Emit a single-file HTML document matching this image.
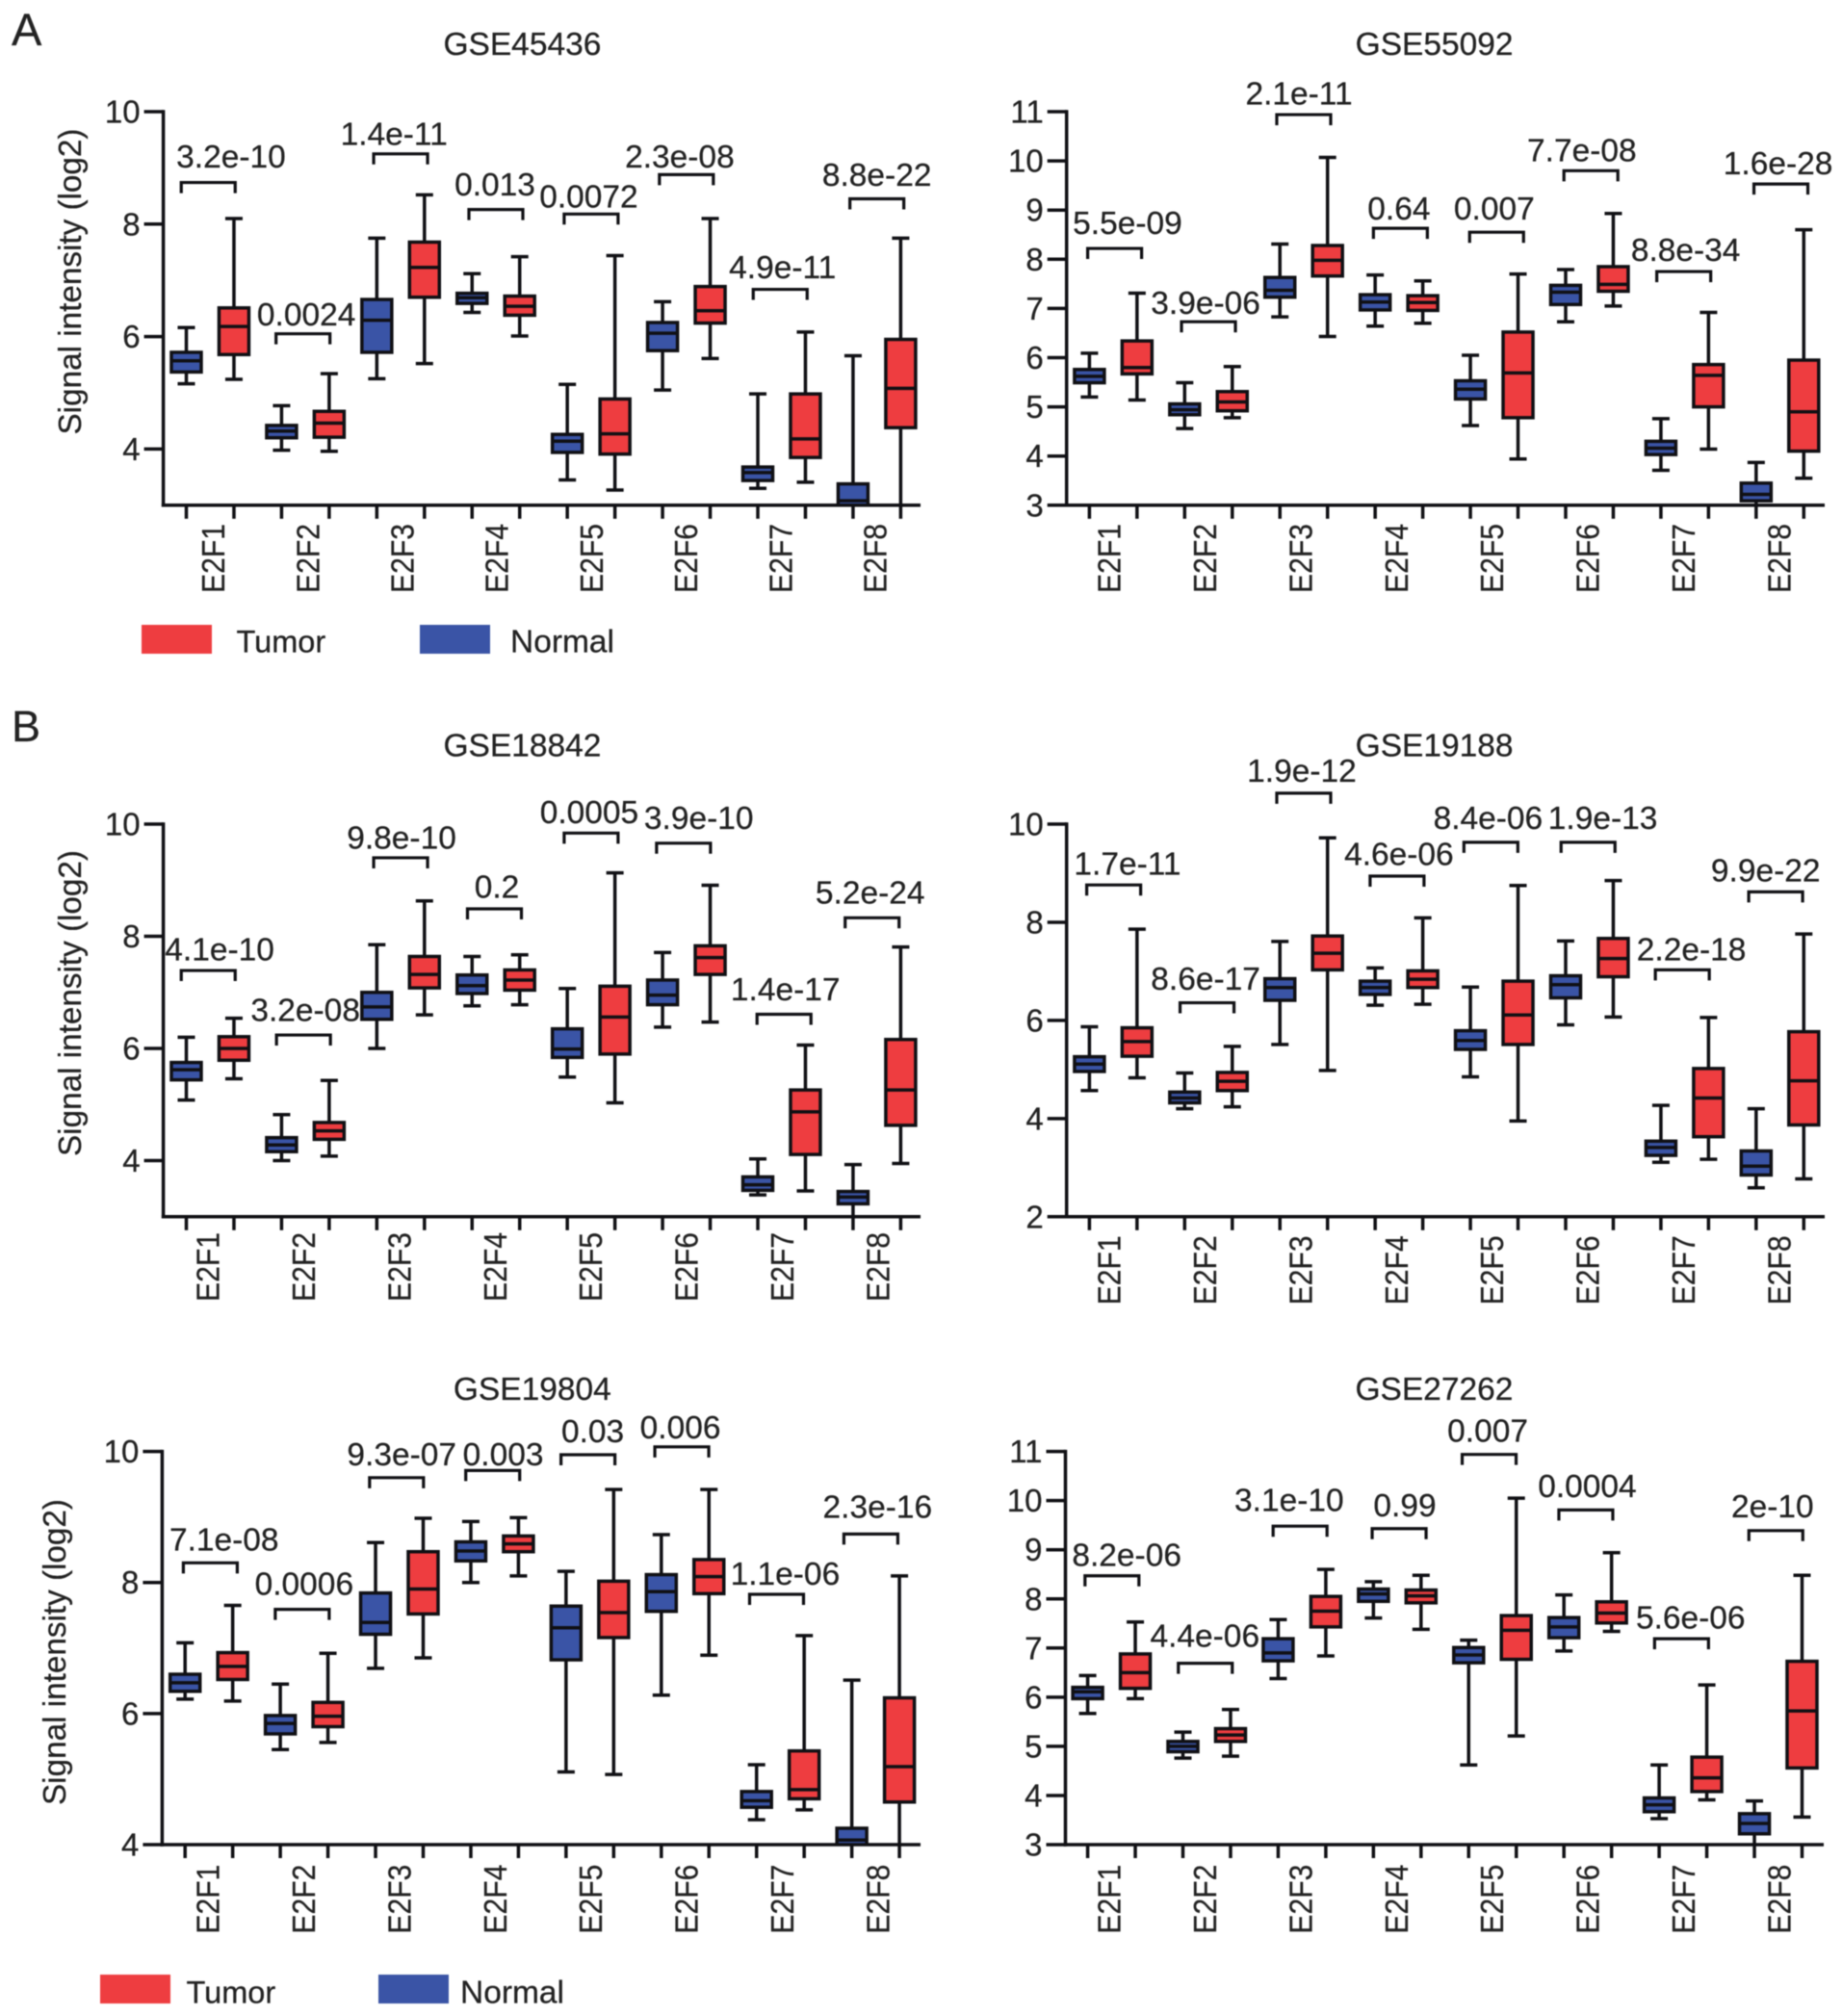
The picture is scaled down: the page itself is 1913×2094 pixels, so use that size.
<!DOCTYPE html>
<html lang="en">
<head>
<meta charset="utf-8">
<title>E2F expression in tumor and normal tissue</title>
<style>
html,body{margin:0;padding:0;background:#fff;}
svg{display:block;filter:blur(0.55px);}
text{font-family:"Liberation Sans",Arial,sans-serif;fill:#222;stroke:#222;stroke-width:0.25px;}
</style>
</head>
<body>
<svg id="figure" xmlns="http://www.w3.org/2000/svg" width="1913" height="2094" viewBox="0 0 1913 2094">
  <rect x="0" y="0" width="1913" height="2094" fill="#ffffff"/>
  <text x="12" y="47" font-size="47">A</text>
  <text x="12" y="770" font-size="45">B</text>

  <g>
    <rect x="147" y="649" width="73" height="30" fill="#ee3d40"/>
    <text x="245.5" y="677.5" font-size="32.5">Tumor</text>
    <rect x="436" y="649" width="73" height="30" fill="#3a54a6"/>
    <text x="530" y="677.5" font-size="33.5">Normal</text>
  </g>
  <g>
    <rect x="104" y="2051" width="73" height="30" fill="#ee3d40"/>
    <text x="193.5" y="2080.5" font-size="32.5">Tumor</text>
    <rect x="393" y="2051" width="73" height="30" fill="#3a54a6"/>
    <text x="478" y="2080.5" font-size="33.5">Normal</text>
  </g>
</svg>

<script>
// Shared categories
const categories = ['E2F1','E2F2','E2F3','E2F4','E2F5','E2F6','E2F7','E2F8'];

// Every box reads [lower whisker, Q1, median, Q3, upper whisker] in log2 signal
const gse45436Normal = [[5.16,5.37,5.57,5.72,6.16],[3.98,4.20,4.32,4.42,4.77],[5.25,5.72,6.29,6.66,7.75],[6.43,6.59,6.69,6.77,7.12],[3.45,3.94,4.14,4.26,5.15],[5.05,5.75,6.06,6.25,6.62],[3.30,3.44,3.58,3.68,4.98],[2.5,2.75,3.08,3.38,5.66]];
const gse45436Tumor = [[5.24,5.68,6.18,6.51,8.10],[3.96,4.21,4.46,4.67,5.34],[5.52,6.70,7.23,7.68,8.52],[6.01,6.38,6.54,6.72,7.42],[3.27,3.91,4.27,4.89,7.44],[5.61,6.24,6.46,6.89,8.10],[3.41,3.85,4.18,4.98,6.08],[2.9,4.38,5.08,5.95,7.75]];
const gse45436Pvalues = ['3.2e-10','0.0024','1.4e-11','0.013','0.0072','2.3e-08','4.9e-11','8.8e-22'];
const gse45436BracketLevel = [8.74,6.05,9.25,8.26,8.18,8.88,6.84,8.45];
const gse45436BracketCategory = [-0.02,0.975,2.0,3.0,4.0,5.0,5.985,7.0];
const gse45436LabelLevel = [9.01,6.20,9.41,8.51,8.30,9.01,7.04,8.68];
const gse45436LabelCategory = [0.22,1.01,1.93,2.99,3.975,4.93,6.01,7.0];
const gse45436Ticks = [4,6,8,10];

const gse55092Normal = [[5.20,5.49,5.62,5.76,6.09],[4.56,4.84,4.94,5.06,5.49],[6.83,7.23,7.37,7.63,8.31],[6.64,6.97,7.13,7.28,7.68],[4.62,5.16,5.36,5.53,6.05],[6.73,7.08,7.33,7.47,7.79],[3.71,4.03,4.16,4.30,4.76],[2.9,3.09,3.22,3.45,3.87]];
const gse55092Tumor = [[5.14,5.67,5.80,6.34,7.31],[4.78,4.92,5.10,5.31,5.82],[6.43,7.66,7.98,8.28,10.07],[6.70,6.96,7.12,7.26,7.56],[3.94,4.78,5.69,6.52,7.70],[7.05,7.35,7.49,7.85,8.93],[4.14,5.00,5.64,5.86,6.92],[3.55,4.10,4.90,5.95,8.60]];
const gse55092Pvalues = ['5.5e-09','3.9e-06','2.1e-11','0.64','0.007','7.7e-08','8.8e-34','1.6e-28'];
const gse55092BracketLevel = [8.22,6.73,10.94,8.63,8.55,9.80,7.75,9.53];
const gse55092BracketCategory = [0.015,1.0,2.0,3.015,4.025,5.015,5.99,7.01];
const gse55092LabelLevel = [8.51,6.89,11.15,8.81,8.81,9.99,7.97,9.73];
const gse55092LabelCategory = [0.15,0.97,1.95,3.0,4.0,4.92,6.01,6.98];
const gse55092Ticks = [3,4,5,6,7,8,9,10,11];

const gse18842Normal = [[5.08,5.44,5.62,5.75,6.20],[4.00,4.16,4.28,4.41,4.82],[6.00,6.52,6.74,7.00,7.85],[6.76,6.98,7.12,7.31,7.64],[5.49,5.84,5.99,6.35,7.07],[6.38,6.78,6.95,7.22,7.71],[3.39,3.47,3.57,3.71,4.03],[2.9,3.23,3.35,3.45,3.93]];
const gse18842Tumor = [[5.46,5.79,6.00,6.21,6.54],[4.08,4.38,4.53,4.68,5.43],[6.60,7.08,7.32,7.64,8.63],[6.78,7.04,7.22,7.40,7.67],[5.03,5.90,6.56,7.11,9.13],[6.47,7.32,7.62,7.83,8.91],[3.46,4.11,4.87,5.26,6.06],[3.95,4.63,5.26,6.16,7.81]];
const gse18842Pvalues = ['4.1e-10','3.2e-08','9.8e-10','0.2','0.0005','3.9e-10','1.4e-17','5.2e-24'];
const gse18842BracketLevel = [7.39,6.24,9.40,8.49,9.84,9.66,6.61,8.33];
const gse18842BracketCategory = [-0.02,0.98,2.0,2.985,4.0,4.97,6.025,6.95];
const gse18842LabelLevel = [7.57,6.49,9.56,8.69,10.02,9.91,6.86,8.58];
const gse18842LabelCategory = [0.1,1.0,2.01,3.01,3.98,5.13,6.04,6.93];
const gse18842Ticks = [4,6,8,10];

const gse19188Normal = [[4.57,4.96,5.11,5.26,5.87],[4.20,4.32,4.42,4.54,4.93],[5.51,6.41,6.67,6.85,7.61],[6.31,6.53,6.67,6.80,7.07],[4.85,5.41,5.59,5.79,6.68],[5.91,6.46,6.73,6.91,7.62],[3.11,3.25,3.41,3.54,4.27],[2.59,2.85,3.03,3.34,4.20]];
const gse19188Tumor = [[4.83,5.27,5.57,5.85,7.86],[4.24,4.57,4.76,4.94,5.47],[4.98,7.03,7.37,7.72,9.72],[6.33,6.67,6.84,7.01,8.09],[3.95,5.51,6.11,6.80,8.75],[6.07,6.89,7.26,7.67,8.85],[3.17,3.63,4.42,5.02,6.06],[2.77,3.87,4.77,5.77,7.76]];
const gse19188Pvalues = ['1.7e-11','8.6e-17','1.9e-12','4.6e-06','8.4e-06','1.9e-13','2.2e-18','9.9e-22'];
const gse19188BracketLevel = [8.76,6.36,10.63,8.94,9.63,9.63,7.03,8.62];
const gse19188BracketCategory = [0.005,0.985,2.0,2.98,3.965,4.985,5.975,6.955];
const gse19188LabelLevel = [8.97,6.63,10.86,9.17,9.90,9.90,7.22,8.83];
const gse19188LabelCategory = [0.15,0.97,1.98,3.0,3.935,5.14,6.07,6.85];
const gse19188Ticks = [2,4,6,8,10];

const gse19804Normal = [[6.22,6.34,6.47,6.60,7.08],[5.45,5.69,5.85,5.97,6.45],[6.69,7.21,7.39,7.84,8.61],[8.00,8.33,8.48,8.62,8.93],[5.11,6.82,7.31,7.64,8.17],[6.28,7.56,7.86,8.12,8.73],[4.38,4.57,4.67,4.81,5.22],[3.5,3.85,4.07,4.25,6.51]];
const gse19804Tumor = [[6.19,6.52,6.72,6.93,7.65],[5.56,5.80,5.96,6.17,6.92],[6.85,7.52,7.90,8.47,8.98],[8.10,8.47,8.59,8.71,8.99],[5.07,7.16,7.54,8.02,9.42],[6.89,7.83,8.09,8.35,9.42],[4.53,4.70,4.84,5.43,7.19],[3.9,4.65,5.19,6.24,8.10]];
const gse19804Pvalues = ['7.1e-08','0.0006','9.3e-07','0.003','0.03','0.006','1.1e-06','2.3e-16'];
const gse19804BracketLevel = [8.30,7.59,9.60,9.71,9.95,10.07,7.82,8.74];
const gse19804BracketCategory = [0.015,0.98,1.97,2.98,3.98,4.965,5.96,6.95];
const gse19804LabelLevel = [8.49,7.81,9.79,9.79,10.14,10.2,7.97,8.99];
const gse19804LabelCategory = [0.16,1.0,2.025,3.09,4.03,4.95,6.05,7.02];
const gse19804Ticks = [4,6,8,10];

const gse27262Normal = [[5.67,5.97,6.11,6.20,6.44],[4.76,4.89,5.00,5.10,5.29],[6.38,6.74,6.90,7.19,7.58],[7.61,7.95,8.10,8.20,8.35],[4.62,6.70,6.86,7.01,7.16],[6.94,7.21,7.43,7.62,8.08],[3.53,3.67,3.81,3.95,4.62],[2.95,3.22,3.43,3.63,3.89]];
const gse27262Tumor = [[5.97,6.18,6.50,6.88,7.53],[4.80,5.10,5.23,5.36,5.75],[6.84,7.43,7.75,8.05,8.60],[7.38,7.92,8.06,8.18,8.48],[5.21,6.77,7.36,7.66,10.05],[7.34,7.51,7.71,7.94,8.94],[3.91,4.08,4.36,4.78,6.25],[3.56,4.56,5.72,6.73,8.48]];
const gse27262Pvalues = ['8.2e-06','4.4e-06','3.1e-10','0.99','0.007','0.0004','5.6e-06','2e-10'];
const gse27262BracketLevel = [8.47,6.69,9.48,9.43,10.94,9.81,7.19,9.39];
const gse27262BracketCategory = [0.005,0.985,1.98,3.02,3.965,4.98,5.985,6.975];
const gse27262LabelLevel = [8.67,7.03,9.79,9.68,11.2,10.07,7.40,9.66];
const gse27262LabelCategory = [0.16,0.98,1.865,3.08,3.95,4.995,6.08,6.94];
const gse27262Ticks = [3,4,5,6,7,8,9,10,11];

// Panel frames (layout only)
const panels = [
  {title:'GSE45436',titleX:542.4,titleY:57,axisX:169.6,firstTick:193.5,endX:956,top:116,bottom:524.8,vTop:10,vBottom:3,ticks:gse45436Ticks,normal:gse45436Normal,tumor:gse45436Tumor,p:gse45436Pvalues,bl:gse45436BracketLevel,bc:gse45436BracketCategory,ll:gse45436LabelLevel,lc:gse45436LabelCategory,catX:221.6,catStep:98.2,catY:616,yTitleX:84,yTitleY:292.5},
  {title:'GSE55092',titleX:1489.6,titleY:57,axisX:1107.7,firstTick:1131.4,endX:1895,top:116,bottom:524.8,vTop:11,vBottom:3,ticks:gse55092Ticks,normal:gse55092Normal,tumor:gse55092Tumor,p:gse55092Pvalues,bl:gse55092BracketLevel,bc:gse55092BracketCategory,ll:gse55092LabelLevel,lc:gse55092LabelCategory,catX:1152.1,catStep:99.4,catY:616},
  {title:'GSE18842',titleX:542.4,titleY:785.5,axisX:169.6,firstTick:193.5,endX:956,top:856,bottom:1263.8,vTop:10,vBottom:3,ticks:gse18842Ticks,normal:gse18842Normal,tumor:gse18842Tumor,p:gse18842Pvalues,bl:gse18842BracketLevel,bc:gse18842BracketCategory,ll:gse18842LabelLevel,lc:gse18842LabelCategory,catX:216.1,catStep:99.4,catY:1352,yTitleX:84,yTitleY:1042},
  {title:'GSE19188',titleX:1489.6,titleY:785.5,axisX:1107.7,firstTick:1131.4,endX:1895,top:856,bottom:1263.8,vTop:10,vBottom:2,ticks:gse19188Ticks,normal:gse19188Normal,tumor:gse19188Tumor,p:gse19188Pvalues,bl:gse19188BracketLevel,bc:gse19188BracketCategory,ll:gse19188LabelLevel,lc:gse19188LabelCategory,catX:1152.1,catStep:99.4,catY:1355.4},
  {title:'GSE19804',titleX:552.8,titleY:1454,axisX:168.4,firstTick:192.2,endX:956,top:1507.6,bottom:1916,vTop:10,vBottom:4,ticks:gse19804Ticks,normal:gse19804Normal,tumor:gse19804Tumor,p:gse19804Pvalues,bl:gse19804BracketLevel,bc:gse19804BracketCategory,ll:gse19804LabelLevel,lc:gse19804LabelCategory,catX:216.1,catStep:99.4,catY:2008.6,yTitleX:68,yTitleY:1716},
  {title:'GSE27262',titleX:1489.4,titleY:1454,axisX:1106.5,firstTick:1129.6,endX:1894,top:1507.6,bottom:1916,vTop:11,vBottom:3,ticks:gse27262Ticks,normal:gse27262Normal,tumor:gse27262Tumor,p:gse27262Pvalues,bl:gse27262BracketLevel,bc:gse27262BracketCategory,ll:gse27262LabelLevel,lc:gse27262LabelCategory,catX:1152.1,catStep:99.4,catY:2008.6}
];

const SVG_NS = 'http://www.w3.org/2000/svg';
const figure = document.getElementById('figure');
const INK = '#101014';
const TICK_STEP = 49.46;
const BOX_W = 31;
const CAP_W = 18;
const LINE_W = 3.5;

function make(tag, attrs, parent) {
  const node = document.createElementNS(SVG_NS, tag);
  for (const key in attrs) node.setAttribute(key, attrs[key]);
  parent.appendChild(node);
  return node;
}

function line(parent, x1, y1, x2, y2, width) {
  return make('line', {x1:x1, y1:y1, x2:x2, y2:y2, stroke:INK, 'stroke-width':width}, parent);
}

function drawBox(parent, stats, xc, yScale, fill, name) {
  const g = make('g', {}, parent);
  
  
  const low = yScale(stats[0]), q1 = yScale(stats[1]), med = yScale(stats[2]), q3 = yScale(stats[3]), high = yScale(stats[4]);
  const stem = line(g, xc, high, xc, low, LINE_W);
  
  
  const capHigh = line(g, xc - CAP_W/2, high, xc + CAP_W/2, high, LINE_W);
  
  
  const capLow = line(g, xc - CAP_W/2, low, xc + CAP_W/2, low, LINE_W);
  
  
  const rect = make('rect', {x:xc - BOX_W/2, y:q3, width:BOX_W, height:q1 - q3, fill:fill, stroke:INK, 'stroke-width':LINE_W}, g);
  
  
  const median = line(g, xc - BOX_W/2, med, xc + BOX_W/2, med, LINE_W);
  
  
}

panels.forEach(function (panel, panelIndex) {
  const yScale = function (v) {
    return panel.top + (panel.vTop - v) * (panel.bottom - panel.top) / (panel.vTop - panel.vBottom);
  };
  const tickX = function (i) { return panel.firstTick + TICK_STEP * i; };
  const groupX = function (c) { return panel.firstTick + TICK_STEP * (2 * c + 0.5); };

  const root = make('g', {}, figure);
  
  

  const titleNode = make('text', {x:panel.titleX, y:panel.titleY, 'font-size':33.5, 'text-anchor':'middle'}, root);
  titleNode.textContent = panel.title;
  
  

  const defs = make('defs', {}, root);
  const clip = make('clipPath', {id:'plot-clip-' + panelIndex}, defs);
  make('rect', {x:panel.axisX, y:panel.top - 40, width:panel.endX - panel.axisX, height:panel.bottom - panel.top + 40}, clip);

  const marks = make('g', {'clip-path':'url(#plot-clip-' + panelIndex + ')'}, root);
  
  
  categories.forEach(function (cat, i) {
    drawBox(marks, panel.normal[i], tickX(2 * i), yScale, '#3a54a6', 'box-normal-' + cat.toLowerCase());
    drawBox(marks, panel.tumor[i], tickX(2 * i + 1), yScale, '#ee3d40', 'box-tumor-' + cat.toLowerCase());
  });

  // axes
  const yAxis = line(root, panel.axisX, panel.top - 1.75, panel.axisX, panel.bottom + 1.75, 3.5);
  
  
  const xAxis = line(root, panel.axisX - 1.75, panel.bottom, panel.endX, panel.bottom, 3.5);
  
  

  panel.ticks.forEach(function (value) {
    const y = yScale(value);
    const tick = line(root, panel.axisX - 20, y, panel.axisX, y, 3.5);
    
    
    const label = make('text', {x:panel.axisX - 24, y:y + 11.5, 'font-size':33, 'text-anchor':'end'}, root);
    label.textContent = String(value);
    
    
  });

  for (let i = 0; i < categories.length * 2; i++) {
    const tick = line(root, tickX(i), panel.bottom, tickX(i), panel.bottom + 14, 3.5);
    
    
  }

  categories.forEach(function (cat, i) {
    const cx = panel.catX + panel.catStep * i + 11.5;
    const label = make('text', {x:cx, y:panel.catY, 'font-size':33, textLength:72, lengthAdjust:'spacingAndGlyphs', transform:'rotate(-90 ' + cx + ' ' + panel.catY + ')'}, root);
    label.textContent = cat;
    
    
  });

  if (panel.yTitleX) {
    const yTitle = make('text', {x:panel.yTitleX, y:panel.yTitleY, 'font-size':33.5, 'text-anchor':'middle', textLength:318, lengthAdjust:'spacingAndGlyphs', transform:'rotate(-90 ' + panel.yTitleX + ' ' + panel.yTitleY + ')'}, root);
    yTitle.textContent = 'Signal intensity (log2)';
    
    
  }

  // significance brackets
  panel.p.forEach(function (text, i) {
    const xc = groupX(panel.bc[i]);
    const y = yScale(panel.bl[i]);
    const half = 28;
    const bracket = make('path', {d:'M' + (xc - half) + ' ' + (y + 11) + 'V' + y + 'H' + (xc + half) + 'V' + (y + 11), fill:'none', stroke:INK, 'stroke-width':3.2}, root);
    
    
    const label = make('text', {x:groupX(panel.lc[i]), y:yScale(panel.ll[i]), 'font-size':33.5, 'text-anchor':'middle'}, root);
    label.textContent = text;
    
    
  });
});
</script>
</body>
</html>
